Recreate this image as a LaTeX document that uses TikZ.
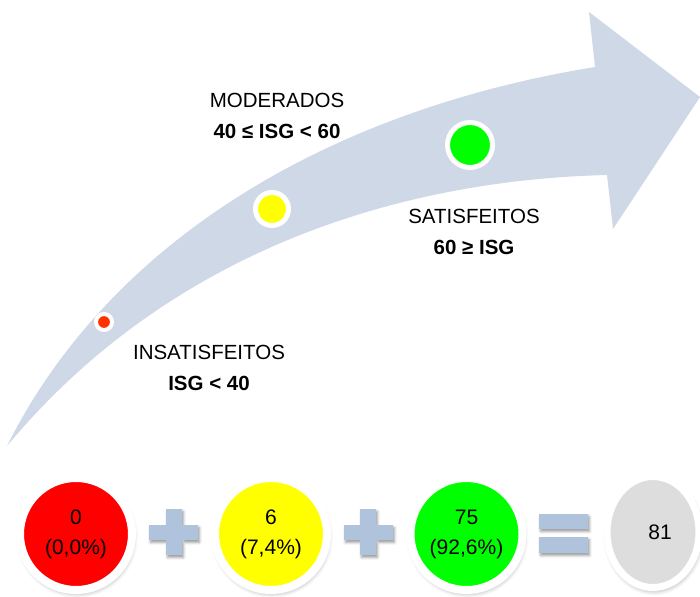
\documentclass[tikz,border=0pt]{standalone}
\usepackage{fontspec}
\setmainfont{Liberation Sans}
\usetikzlibrary{shapes.geometric,shadows.blur}
\definecolor{arrowc}{RGB}{206,216,231}
\definecolor{signc}{RGB}{176,195,220}
\definecolor{dotred}{RGB}{255,51,0}
\definecolor{cred}{RGB}{255,0,0}
\definecolor{cyellow}{RGB}{255,255,0}
\definecolor{cgreen}{RGB}{0,255,0}
\definecolor{cgray}{RGB}{221,221,221}
\tikzset{
  dot/.style={circle, draw=white, inner sep=0pt},
  bigcirc/.style={circle, draw=white, line width=8pt, minimum size=112pt, inner sep=0pt,
    align=center, font=\fontsize{21}{30}\selectfont,
    blur shadow={shadow xshift=1pt, shadow yshift=-3pt, shadow blur radius=5pt, shadow opacity=40}},
  label/.style={align=center, inner sep=0pt, font=\fontsize{20.5}{31}\selectfont},
  sign/.style={fill=signc, blur shadow={shadow xshift=1.5pt, shadow yshift=-2.5pt, shadow blur radius=2.5pt, shadow opacity=40}}
}
\begin{document}
\begin{tikzpicture}[x=1pt,y=-1pt]
\useasboundingbox (0,0) rectangle (700,596);
% curved arrow
\fill[arrowc] (7,446) .. controls (110,240) and (330,110) .. (595,67) -- (589,12) -- (700,97) -- (613,229) -- (607,175) .. controls (400,180) and (170,250) .. cycle;
% dots on the arrow
\node[dot, fill=dotred, line width=4pt, minimum size=16pt] (d1) at (104,322) {};
\node[dot, fill=cyellow, line width=5pt, minimum size=33pt] (d2) at (272,209) {};
\node[dot, fill=cgreen, line width=5pt, minimum size=45pt] (d3) at (470,145) {};
% labels
\node[label] (l2) at (277,116) {MODERADOS\\\textbf{40 ≤ ISG < 60}};
\node[label] (l3) at (474,232) {SATISFEITOS\\\textbf{60 ≥ ISG}};
\node[label] (l1) at (209,368) {INSATISFEITOS\\\textbf{ISG < 40}};
% bottom equation
\node[bigcirc, fill=cred] (c1) at (76,534) {0\\(0,0\%)};
\node[bigcirc, fill=cyellow] (c2) at (271,534) {6\\(7,4\%)};
\node[bigcirc, fill=cgreen] (c3) at (466.5,534) {75\\(92,6\%)};
\node[bigcirc, ellipse, fill=cgray, line width=7pt, minimum width=92pt, minimum height=111pt] (c4) at (653,532) {\hspace*{14pt}81};
% plus signs
\path[sign] (149,525) rectangle (198,540) (166,509) rectangle (182,555);
\path[sign] (344,525) rectangle (393,540) (360,509) rectangle (376,555);
% equals sign
\path[sign] (539,514) rectangle (588,529) (539,537) rectangle (588,553);
\end{tikzpicture}
\end{document}
